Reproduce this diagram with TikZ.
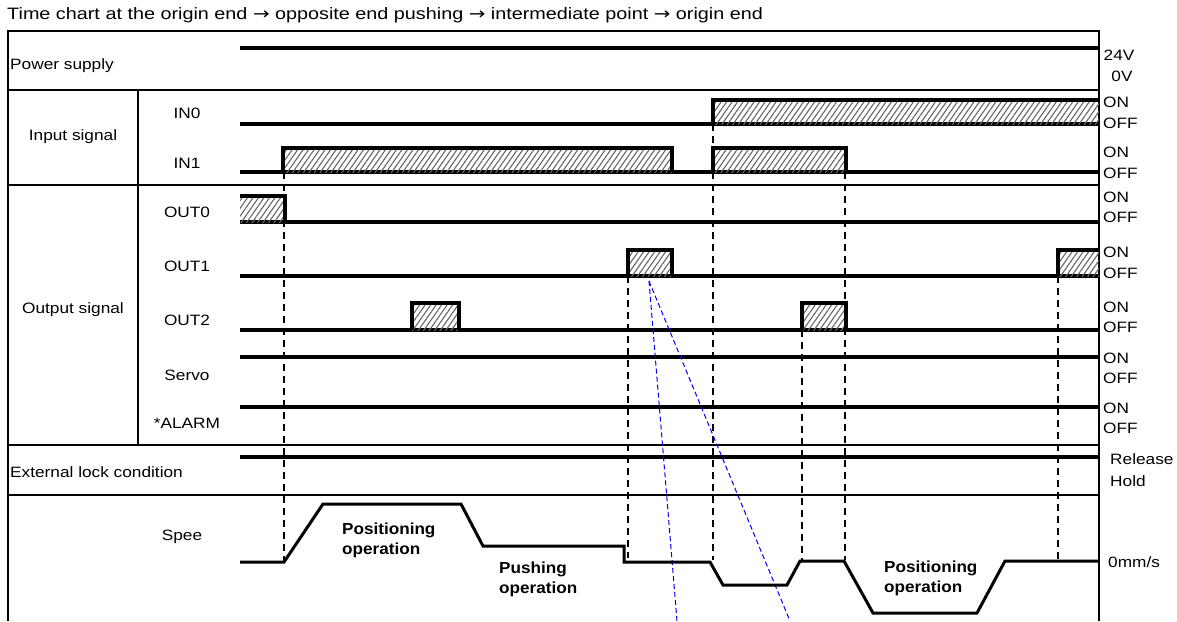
\documentclass[tikz,border=0pt]{standalone}
\usepackage{fontspec}
\setmainfont{Liberation Sans}
\newfontfamily\arrowfont{DejaVu Sans}
\usetikzlibrary{patterns.meta}

\begin{document}
\begin{tikzpicture}[x=1pt,y=-1pt,
  frame/.style={line width=1.6pt},
  sig/.style={line width=4pt},
  hatch/.style={pattern={Lines[angle=55,distance=4.5pt,line width=1.1pt]},pattern color=black!60},
  guide/.style={line width=1.3pt,dash pattern=on 7pt off 5pt},
  ray/.style={blue,line width=1pt,dash pattern=on 5pt off 3pt},
  speed/.style={line width=3pt},
  lbl/.style={font=\fontsize{15}{18}\selectfont,inner sep=0pt,xscale=1.15},
  lvl/.style={lbl,anchor=west},
  op/.style={font=\fontsize{16}{20}\selectfont\bfseries,align=left,anchor=west,inner sep=0pt,xscale=1.07}]
  \fill[white] (0,0) rectangle (1177,621);
  % title
  \node[font=\fontsize{16.5}{19}\selectfont,anchor=west,inner sep=0pt,xscale=1.2] (title) at (7,15)
    {Time chart at the origin end {\arrowfont →} opposite end pushing {\arrowfont →} intermediate point {\arrowfont →} origin end};
  % table frame
  \draw[frame] (8,621) |- (1099,31) -- (1099,621);
  \foreach \y in {90,185,445,495}
    \draw[frame] (8,\y) -- (1099,\y);
  \draw[frame] (138,90) -- (138,445);
  % row labels
  \node[lbl,anchor=west] (power) at (10,66) {Power supply};
  \node[lbl] (input) at (73,137) {Input signal};
  \node[lbl] (output) at (73,310) {Output signal};
  \node[lbl,anchor=west] (lock) at (10,472) {External lock condition};
  \node[lbl] (speed) at (182,537) {Spee};
  \foreach \n/\t/\y in {in0/IN0/113, in1/IN1/163, out0/OUT0/212, out1/OUT1/266,
                        out2/OUT2/320, servo/Servo/375, alarm/*ALARM/423}
    \node[lbl] (\n) at (187,\y) {\t};
  % level labels
  \node[lbl] (v24) at (1119,55) {24V};
  \node[lbl] (v0) at (1122,76) {0V};
  \foreach \n/\on/\off in {in0/102/123, in1/152/173, out0/197/217, out1/252/273,
                           out2/307/327, servo/358/378, alarm/408/428} {
    \node[lvl] (\n-on) at (1103,\on) {ON};
    \node[lvl] (\n-off) at (1103,\off) {OFF};
  }
  \node[lvl] (release) at (1110,459) {Release};
  \node[lvl] (hold) at (1110,481) {Hold};
  \node[lvl] (zero) at (1108,562) {0mm/s};
  % signal base lines
  \draw[sig] (240,48) -- (1099,48);
  \foreach \y in {124,172,222,276,330,357,407,457}
    \draw[sig] (240,\y) -- (1099,\y);
  % ON pulses
  \foreach \a/\b/\t/\l in {283/672/148/172, 713/846/148/172, 628/672/250/276,
                           412/459/303/330, 802/846/303/330} {
    \fill[hatch] (\a,\t) rectangle (\b,\l);
    \draw[sig] (\a,\l) |- (\b,\t) -- (\b,\l);
  }
  % pulses running into the frame
  \fill[hatch] (713,100) rectangle (1099,124);
  \draw[sig] (713,124) |- (1099,100);
  \fill[hatch] (1058,250) rectangle (1099,276);
  \draw[sig] (1058,276) |- (1099,250);
  \fill[hatch] (240,196) rectangle (285,222);
  \draw[sig] (240,196) -| (285,222);
  % timing guides
  \foreach \x/\ya/\yb in {284/172/562, 628/276/558, 713/124/560, 802/330/560,
                          845/172/560, 1058/276/560}
    \draw[guide] (\x,\ya) -- (\x,\yb);
  \coordinate (src) at (649,281);
  \draw[ray] (src) -- (677,621);
  \draw[ray] (src) -- (790,621);
  % speed trace
  \draw[speed] (240,562) -- (284,562) -- (323,504) -- (461,504) -- (483,546)
    -- (624,546) -- (624,562) -- (710,562) -- (723,585) -- (787,585) -- (800,561)
    -- (844,561) -- (873,613) -- (977,613) -- (1005,561) -- (1099,561);
  \node[op] (pos1) at (342,540) {Positioning\\operation};
  \node[op] (push) at (499,579) {Pushing\\operation};
  \node[op] (pos2) at (884,578) {Positioning\\operation};
\end{tikzpicture}
\end{document}
